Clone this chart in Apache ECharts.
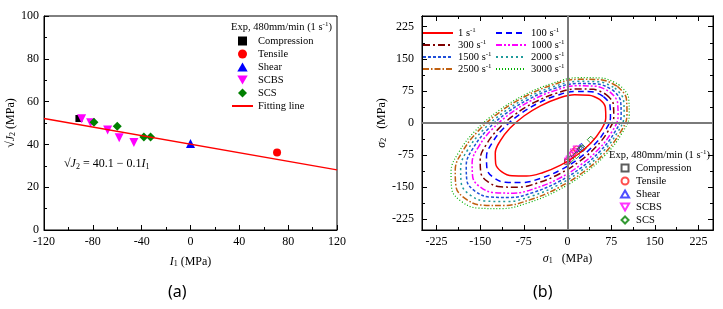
<!DOCTYPE html>
<html>
<head>
<meta charset="utf-8">
<script src="https://cdn.jsdelivr.net/npm/echarts@6/dist/echarts.min.js"></script>
<style>
html, body { margin: 0; padding: 0; background: #fff; }
#chart { width: 723px; height: 309px; }
</style>
</head>
<body>
<div id="chart"></div>
<script>
// ---- panel (a): I1 vs sqrt(J2) ----
const compressionA = [[-91.4, 52.1]];
const tensileA = [[70.9, 36.2]];
const shearA = [[0, 40.4]];
const scbsA = [[-89.2, 52.0], [-81.8, 50.1], [-67.9, 46.7], [-58.4, 43.1], [-46.4, 40.9]];
const scsA = [[-79.1, 50.4], [-60.0, 48.5], [-38.2, 43.4], [-32.7, 43.5]];
const fitLine = [[-120, 52.1], [120, 28.1]];

// ---- panel (b): sigma1 - sigma2 yield surfaces ----
const rates = ['1', '100', '300', '1000', '1500', '2000', '2500', '3000'];
const surf1 = [[55.1,55.1],[65.0,36.9],[65.8,12.2],[57.3,-16.6],[40.2,-46.5],[16.4,-74.8],[-11.8,-98.6],[-41.8,-115.6],[-70.5,-124.1],[-95.2,-123.4],[-113.4,-113.4],[-123.4,-95.2],[-124.1,-70.5],[-115.6,-41.8],[-98.6,-11.8],[-74.8,16.4],[-46.5,40.2],[-16.6,57.3],[12.2,65.8],[36.9,65.0],[55.1,55.1]];
const surf100 = [[61.8,61.8],[73.0,41.3],[73.8,13.6],[64.2,-18.6],[45.1,-52.2],[18.4,-83.9],[-13.2,-110.6],[-46.9,-129.7],[-79.1,-139.2],[-106.8,-138.4],[-127.2,-127.2],[-138.4,-106.8],[-139.2,-79.1],[-129.7,-46.9],[-110.6,-13.2],[-83.9,18.4],[-52.2,45.1],[-18.6,64.2],[13.6,73.8],[41.3,73.0],[61.8,61.8]];
const surf300 = [[66.5,66.5],[78.6,44.5],[79.5,14.7],[69.2,-20.0],[48.6,-56.2],[19.9,-90.4],[-14.3,-119.1],[-50.5,-139.6],[-85.2,-150.0],[-115.0,-149.1],[-137.0,-137.0],[-149.1,-115.0],[-150.0,-85.2],[-139.6,-50.5],[-119.1,-14.3],[-90.4,19.9],[-56.2,48.6],[-20.0,69.2],[14.7,79.5],[44.5,78.6],[66.5,66.5]];
const surf1000 = [[72.7,72.7],[85.9,48.6],[86.9,16.1],[75.6,-21.9],[53.1,-61.4],[21.7,-98.7],[-15.6,-130.2],[-55.2,-152.6],[-93.1,-163.9],[-125.7,-162.9],[-149.7,-149.7],[-162.9,-125.7],[-163.9,-93.1],[-152.6,-55.2],[-130.2,-15.6],[-98.7,21.7],[-61.4,53.1],[-21.9,75.6],[16.1,86.9],[48.6,85.9],[72.7,72.7]];
const surf1500 = [[77.2,77.2],[91.2,51.7],[92.2,17.0],[80.3,-23.2],[56.4,-65.2],[23.1,-104.9],[-16.6,-138.2],[-58.6,-162.1],[-98.9,-174.0],[-133.5,-173.0],[-159.0,-159.0],[-173.0,-133.5],[-174.0,-98.9],[-162.1,-58.6],[-138.2,-16.6],[-104.9,23.1],[-65.2,56.4],[-23.2,80.3],[17.0,92.2],[51.7,91.2],[77.2,77.2]];
const surf2000 = [[81.4,81.4],[96.2,54.5],[97.3,18.0],[84.7,-24.5],[59.5,-68.8],[24.3,-110.6],[-17.5,-145.8],[-61.8,-171.0],[-104.3,-183.6],[-140.8,-182.5],[-167.7,-167.7],[-182.5,-140.8],[-183.6,-104.3],[-171.0,-61.8],[-145.8,-17.5],[-110.6,24.3],[-68.8,59.5],[-24.5,84.7],[18.0,97.3],[54.5,96.2],[81.4,81.4]];
const surf2500 = [[85.6,85.6],[101.1,57.3],[102.2,18.9],[89.0,-25.7],[62.5,-72.3],[25.6,-116.2],[-18.4,-153.2],[-64.9,-179.6],[-109.6,-192.9],[-147.9,-191.7],[-176.2,-176.2],[-191.7,-147.9],[-192.9,-109.6],[-179.6,-64.9],[-153.2,-18.4],[-116.2,25.6],[-72.3,62.5],[-25.7,89.0],[18.9,102.2],[57.3,101.1],[85.6,85.6]];
const surf3000 = [[88.8,88.8],[104.9,59.4],[106.1,19.6],[92.3,-26.7],[64.9,-75.0],[26.5,-120.6],[-19.0,-159.0],[-67.4,-186.4],[-113.7,-200.1],[-153.5,-198.9],[-182.8,-182.8],[-198.9,-153.5],[-200.1,-113.7],[-186.4,-67.4],[-159.0,-19.0],[-120.6,26.5],[-75.0,64.9],[-26.7,92.3],[19.6,106.1],[59.4,104.9],[88.8,88.8]];
const surfaces = [surf1, surf100, surf300, surf1000, surf1500, surf2000, surf2500, surf3000];

const compressionB = [[-0.8, -90.6]];
const tensileB = [[0.5, -88.0], [9.6, -70.0], [12.5, -65.0], [15.4, -61.0]];
const shearB = [[21.0, -58.5], [24.0, -55.0]];
const scbsB = [[0.6, -89.8], [3.3, -85.1], [8.4, -76.3], [10.5, -68.9], [15.4, -61.8]];
const scsB = [[5.4, -84.5], [15.3, -75.3], [22.9, -61.1], [26.1, -58.8], [40.0, -39.0]];

const ticksB = [-225, -150, -75, 0, 75, 150, 225];
const minorTicksB = [-187.5, -112.5, -37.5, 37.5, 112.5, 187.5];

const serif = 'Liberation Serif';
const surfColors = ['#ff0000', '#0000ff', '#800000', '#ff00ff', '#1f4fd8', '#1f9a9a', '#c06010', '#00b000'];
const surfDash = ['solid', [6, 4], [7, 3, 2, 3], [6, 2, 2, 2, 2, 2], [3, 2], [2, 3], [6, 2, 1.5, 2], [1, 2]];
const squareSym = 'path://M0,0L10,0L10,10L0,10Z';
const upTri = 'path://M5,0L10,8.66L0,8.66Z';
const downTri = 'path://M0,0L10,0L5,8.66Z';
const diamondSym = 'path://M5,0L10,5L5,10L0,5Z';

const chart = echarts.init(document.getElementById('chart'));

const rich = {
  t: { fontFamily: serif, fontSize: 12, color: '#000', lineHeight: 13 },
  i: { fontFamily: serif, fontSize: 12, fontStyle: 'italic', color: '#000', lineHeight: 13 },
  sub: { fontFamily: serif, fontSize: 8, color: '#000', verticalAlign: 'bottom', lineHeight: 8 },
  sup: { fontFamily: serif, fontSize: 7, color: '#000', verticalAlign: 'top', lineHeight: 7 },
  l: { fontFamily: serif, fontSize: 10.5, color: '#000', lineHeight: 12 }
};

function tickAxis(grid, min, max, pos, vals, len, labels) {
  return {
    type: 'value', gridIndex: grid, min: min, max: max, position: pos,
    axisLine: { show: true, onZero: false, lineStyle: { color: '#000', width: 1 } },
    axisTick: { show: true, inside: true, length: len, customValues: vals, lineStyle: { color: '#000' } },
    axisLabel: labels ? { show: true, customValues: vals, fontFamily: serif, fontSize: 12, color: '#000', margin: 6 } : { show: false },
    splitLine: { show: false }
  };
}

const xAxes = [
  {
    type: 'value', gridIndex: 0, min: -120, max: 120, interval: 40,
    axisLine: { onZero: false, lineStyle: { color: '#000' } },
    axisTick: { inside: true, length: 5, lineStyle: { color: '#000' } },
    minorTick: { show: true, splitNumber: 2, length: 3, lineStyle: { color: '#000' } },
    axisLabel: { fontFamily: serif, fontSize: 12, color: '#000', margin: 6 },
    splitLine: { show: false },
    name: '{i|I}{sub|1}{t| (MPa)}', nameLocation: 'middle', nameGap: 25,
    nameTextStyle: { rich: rich }
  },
  Object.assign(tickAxis(1, -250, 250, 'bottom', ticksB, 5, true), {
    name: '{i|σ}{sub|1}{t|   (MPa)}', nameLocation: 'middle', nameGap: 21,
    nameTextStyle: { rich: rich }
  }),
  tickAxis(1, -250, 250, 'bottom', minorTicksB, 3, false),
  tickAxis(1, -250, 250, 'top', ticksB, 5, false),
  tickAxis(1, -250, 250, 'top', minorTicksB, 3, false)
];

const yAxes = [
  {
    type: 'value', gridIndex: 0, min: 0, max: 100, interval: 20,
    axisLine: { onZero: false, lineStyle: { color: '#000' } },
    axisTick: { inside: true, length: 5, lineStyle: { color: '#000' } },
    minorTick: { show: true, splitNumber: 2, length: 3, lineStyle: { color: '#000' } },
    axisLabel: { fontFamily: serif, fontSize: 12, color: '#000', margin: 5 },
    splitLine: { show: false },
    name: '{t|√}{i|J}{sub|2}{t| (MPa)}', nameLocation: 'middle', nameGap: 19, nameRotate: 90,
    nameTextStyle: { rich: rich }
  },
  Object.assign(tickAxis(1, -250, 250, 'left', ticksB, 5, true), {
    name: '{i|σ}{sub|2}{t|   (MPa)}', nameLocation: 'middle', nameGap: 22, nameRotate: 90,
    nameTextStyle: { rich: rich }
  }),
  tickAxis(1, -250, 250, 'left', minorTicksB, 3, false),
  tickAxis(1, -250, 250, 'right', ticksB, 5, false),
  tickAxis(1, -250, 250, 'right', minorTicksB, 3, false)
];
yAxes[1].axisLabel.margin = 8;

const series = [];
// panel (a)
function scatterA(name, data, color, symbol, size) {
  return { name: name, type: 'scatter', xAxisIndex: 0, yAxisIndex: 0, data: data,
    symbol: symbol, symbolSize: size, itemStyle: { color: color, opacity: 1 } };
}
series.push(scatterA('Compression', compressionA, '#000000', squareSym, 7));
series.push(scatterA('Tensile', tensileA, '#ff0000', 'circle', 8));
series.push(scatterA('Shear', shearA, '#0000ff', upTri, 9));
series.push(scatterA('SCBS', scbsA, '#ff00ff', downTri, 9));
series.push(scatterA('SCS', scsA, '#008000', diamondSym, 9));
series.push({ name: 'Fitting line', type: 'line', xAxisIndex: 0, yAxisIndex: 0, data: fitLine,
  symbol: 'none', lineStyle: { color: '#ff0000', width: 1.5 }, itemStyle: { color: '#ff0000' } });

// panel (b) zero lines
series.push({ type: 'line', xAxisIndex: 1, yAxisIndex: 1, data: [[0, 0]], symbol: 'none',
  lineStyle: { opacity: 0 },
  markLine: { silent: true, symbol: ['none', 'none'], label: { show: false },
    lineStyle: { color: '#7a7a7a', width: 2, type: 'solid' },
    data: [{ xAxis: 0 }, { yAxis: 0 }] } });

rates.forEach(function (r, k) {
  series.push({ name: r, type: 'line', xAxisIndex: 1, yAxisIndex: 1, data: surfaces[k],
    smooth: 0.4, symbol: 'none',
    lineStyle: { color: surfColors[k], width: k === 7 ? 1.2 : 1.5, type: surfDash[k] },
    itemStyle: { color: surfColors[k] } });
});

function scatterB(name, data, color, symbol, size) {
  return { name: 'b' + name, type: 'scatter', xAxisIndex: 1, yAxisIndex: 1, data: data,
    symbol: symbol, symbolSize: size,
    itemStyle: { color: 'rgba(255,255,255,0)', borderColor: color, borderWidth: 1 } };
}
series.push(scatterB('Compression', compressionB, '#333333', squareSym, 5));
series.push(scatterB('Tensile', tensileB, '#ff2020', 'circle', 6));
series.push(scatterB('Shear', shearB, '#2020ff', upTri, 7));
series.push(scatterB('SCBS', scbsB, '#ff00ff', downTri, 7));
series.push(scatterB('SCS', scsB, '#008000', diamondSym, 7));

const legendText = { fontFamily: serif, fontSize: 10.5, color: '#000', lineHeight: 12, rich: rich };
const rateText = Object.assign({}, legendText, { lineHeight: 11.5 });
const rateFmt = function (n) { return '{l|' + n + ' s}{sup|-1}'; };

chart.setOption({
  animation: false,
  backgroundColor: '#fff',
  grid: [
    { left: 44, top: 16, width: 293, height: 214, show: true, borderColor: '#000', borderWidth: 1, backgroundColor: 'transparent' },
    { left: 422, top: 16, width: 291, height: 214, show: true, borderColor: '#000', borderWidth: 1, backgroundColor: 'transparent' }
  ],
  xAxis: xAxes,
  yAxis: yAxes,
  legend: [
    { orient: 'vertical', left: 231, top: 35, padding: 0, itemWidth: 21, itemHeight: 9, itemGap: 1,
      selectedMode: false, textStyle: legendText,
      data: ['Compression', 'Tensile', 'Shear', 'SCBS', 'SCS', { name: 'Fitting line', itemStyle: { opacity: 0 } }] },
    { orient: 'vertical', left: 620, top: 162, padding: 0, itemWidth: 12, itemHeight: 7, itemGap: 1,
      selectedMode: false, textStyle: legendText,
      formatter: function (n) { return n.slice(1); },
      data: ['bCompression', 'bTensile', 'bShear', 'bSCBS', 'bSCS'] },
    { orient: 'vertical', left: 422, top: 27, padding: 0, itemWidth: 30, itemHeight: 10, itemGap: 0,
      selectedMode: false, textStyle: rateText, itemStyle: { opacity: 0 },
      formatter: rateFmt, data: ['1', '300', '1500', '2500'] },
    { orient: 'vertical', left: 495, top: 27, padding: 0, itemWidth: 30, itemHeight: 10, itemGap: 0,
      selectedMode: false, textStyle: rateText, itemStyle: { opacity: 0 },
      formatter: rateFmt, data: ['100', '1000', '2000', '3000'] }
  ],
  graphic: [
    { type: 'text', left: 231, top: 21, style: { text: '{l|Exp, 480mm/min (1 s}{sup|-1}{l|)}', rich: rich } },
    { type: 'text', left: 609, top: 149, style: { text: '{l|Exp, 480mm/min (1 s}{sup|-1}{l|)}', rich: rich, backgroundColor: '#fff' } },
    { type: 'text', left: 64, top: 158, style: { text: '{t|√}{i|J}{sub|2}{t| = 40.1 − 0.1}{i|I}{sub|1}', rich: rich } },
    { type: 'text', left: 168, top: 284, style: { text: '(a)', fontFamily: 'Noto Sans', fontSize: 16, fill: '#000' } },
    { type: 'text', left: 533, top: 284, style: { text: '(b)', fontFamily: 'Noto Sans', fontSize: 16, fill: '#000' } }
  ],
  series: series
});
</script>
</body>
</html>
